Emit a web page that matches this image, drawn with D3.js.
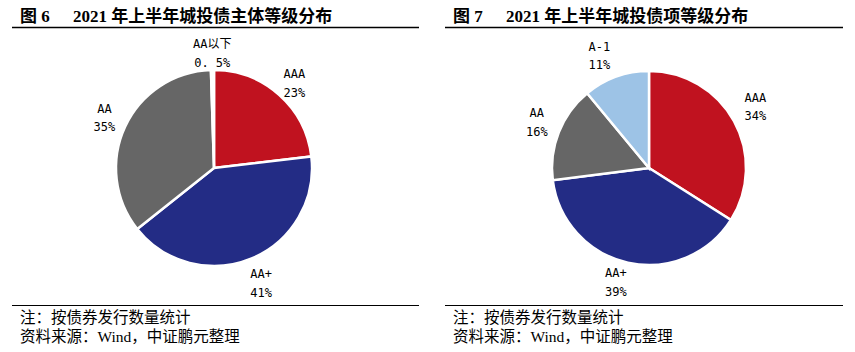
<!DOCTYPE html>
<html>
<head>
<meta charset="utf-8">
<script src="https://cdn.jsdelivr.net/npm/d3@7"></script>
<style>
  body { margin: 0; background: #fff; }
  svg { display: block; }
</style>
</head>
<body>
<svg id="chart" width="855" height="352"></svg>
<script>
"use strict"

// Figure 6: issuer rating
const issuer_labels = ["AAA", "AA+", "AA", "AA以下"];
const issuer_pcts = ["23%", "41%", "35%", "0. 5%"];
const issuer_values = [23, 41, 35, 0.5];

// Figure 7: bond rating
const bond_labels = ["AAA", "AA+", "AA", "A-1"];
const bond_pcts = ["34%", "39%", "16%", "11%"];
const bond_values = [34, 39, 16, 11];

const titles = ["2021 年上半年城投债主体等级分布", "2021 年上半年城投债项等级分布"];
const fig_nums = ["图 6", "图 7"];
const notes = ["注：按债券发行数量统计", "资料来源：Wind，中证鹏元整理"];

const svg = d3.select("#chart");
const label_font = "'DejaVu Sans Mono', 'Noto Sans CJK SC', monospace";

function draw_panel(opts) {
    let g = svg.append("g").attr("transform", "translate(" + opts.x0 + ",0)");

    // Title
    let title = g.append("text")
        .attr("x", 8)
        .attr("y", 22)
        .style("font-family", "'Liberation Serif', 'Noto Sans CJK SC', serif")
        .style("font-weight", "bold")
        .style("font-size", "17px")
        .style("fill", "#000");
    title.append("tspan").text(opts.fig);
    title.append("tspan").attr("x", 61).text(opts.title);

    g.append("line")
        .attr("x1", 0).attr("x2", opts.w)
        .attr("y1", 27.5).attr("y2", 27.5)
        .style("stroke", "#000").style("stroke-width", 1.5);
    g.append("line")
        .attr("x1", 0).attr("x2", opts.w)
        .attr("y1", 305.5).attr("y2", 305.5)
        .style("stroke", "#000").style("stroke-width", 1);

    // Footnotes
    g.selectAll(".note").data(notes).enter().append("text")
        .attr("class", "note")
        .attr("x", 8)
        .attr("y", (d, i) => 323 + i * 19)
        .style("font-family", "'Liberation Serif', 'Noto Sans CJK SC', serif")
        .style("font-size", "15.5px")
        .style("fill", "#000")
        .text(d => d);

    // Pie
    let idx = d3.range(opts.values.length);
    let pie = d3.pie().sort(null).value(i => opts.values[i]);
    let arc = d3.arc().innerRadius(0).outerRadius(opts.r);
    let color = d3.scaleOrdinal().domain(idx).range(opts.colors);

    let pg = g.append("g").attr("transform", "translate(" + opts.cx + "," + opts.cy + ")");
    pg.selectAll("path").data(pie(idx)).enter().append("path")
        .attr("d", arc)
        .style("fill", d => color(d.data))
        .style("stroke", "#fff")
        .style("stroke-width", 2.5);

    // Labels, placed outside along the slice mid-angle
    let label_arc = d3.arc().innerRadius(opts.r + 14).outerRadius(opts.r + 14);
    let lab = pg.selectAll(".lab").data(pie(idx)).enter().append("text")
        .attr("class", "lab")
        .attr("transform", (d, i) => {
            let c = label_arc.centroid(d);
            let off = opts.offsets[i];
            return "translate(" + (c[0] + off[0]) + "," + (c[1] + off[1]) + ")";
        })
        .attr("text-anchor", "middle")
        .style("font-family", label_font)
        .style("font-size", "12px")
        .style("fill", "#000");
    lab.append("tspan").attr("x", 0).attr("dy", "-0.25em").text(d => opts.labels[d.data]);
    lab.append("tspan").attr("x", 0).attr("dy", "1.55em").text(d => opts.pcts[d.data]);
}

draw_panel({
    x0: 12, w: 407, cx: 202, cy: 168, r: 98,
    fig: fig_nums[0], title: titles[0],
    values: issuer_values, labels: issuer_labels, pcts: issuer_pcts,
    colors: ["#C0121F", "#232C85", "#666666", "#FFFFFF"],
    offsets: [[6, -3], [4, 10], [-8, -5], [0, -5]]
});

draw_panel({
    x0: 445, w: 398, cx: 204, cy: 168, r: 97,
    fig: fig_nums[1], title: titles[1],
    values: bond_values, labels: bond_labels, pcts: bond_pcts,
    colors: ["#C0121F", "#232C85", "#666666", "#9DC3E6"],
    offsets: [[9, -10], [-9, 4], [-9, -7], [-12, -10]]
});
</script>
</body>
</html>
